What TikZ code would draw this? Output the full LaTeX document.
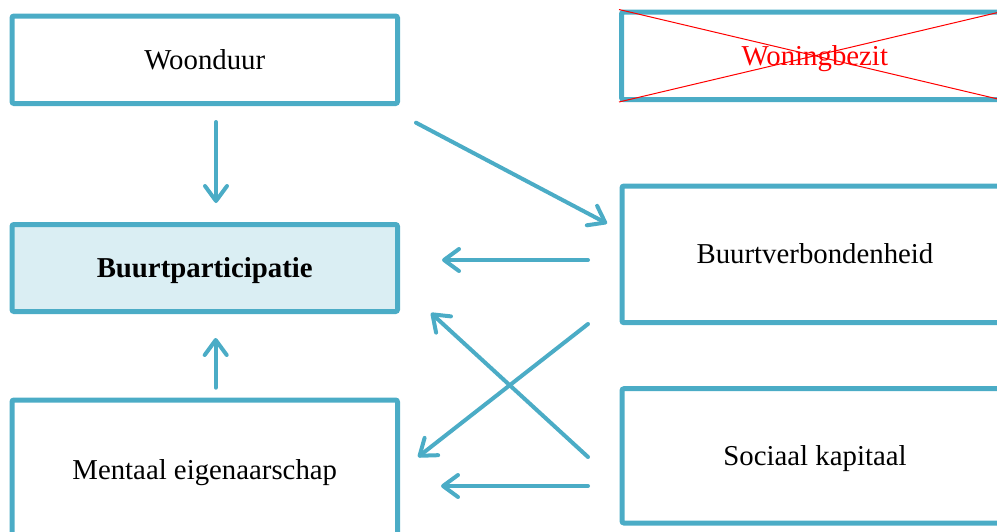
\documentclass[tikz,border=0pt]{standalone}
\usepackage{fontspec}
\setmainfont{Liberation Serif}
\usetikzlibrary{arrows.meta}
\definecolor{framecol}{HTML}{4BACC6}
\definecolor{fillcol}{HTML}{DAEEF3}
\begin{document}
\begin{tikzpicture}[x=1pt,y=-1pt,
  box/.style={draw=framecol, line width=5pt, rounded corners=2pt, inner sep=0pt,
    text height=19pt, text depth=0.5pt,
    font=\fontsize{28.8}{34}\selectfont},
  link/.style={draw=framecol, line width=4pt, line cap=round,
    -{Straight Barb[length=15pt,width=22pt,round]}}]
\useasboundingbox (0,0) rectangle (997,531);
\clip (0,0) rectangle (997,531);

% left column
\node[box, minimum width=385.5pt, minimum height=87.5pt] (woon) at (204.75,59.75) {Woonduur};
\node[box, fill=fillcol, minimum width=385.5pt, minimum height=87pt] (part) at (204.75,268) {\bfseries Buurtparticipatie};
\node[box, minimum width=385.5pt, minimum height=140pt] (ment) at (204.75,470) {Mentaal eigenaarschap};

% right column
\node[box, text=red, minimum width=386.5pt, minimum height=87.5pt] (bezit) at (814.75,55.75) {Woningbezit};
\draw[red, line width=1pt] (bezit.north west) -- (bezit.south east)
                           (bezit.south west) -- (bezit.north east);
\node[box, minimum width=386pt, minimum height=136.7pt] (verb) at (815,254.35) {Buurtverbondenheid};
\node[box, minimum width=386pt, minimum height=134.3pt] (soc) at (815,455.85) {Sociaal kapitaal};

% arrow end points
\coordinate (w1) at (216,122);   \coordinate (p1) at (216,203);
\coordinate (w2) at (416,122.7); \coordinate (v1) at (607,223.5);
\coordinate (v2) at (588,260);   \coordinate (p2) at (442,260);
\coordinate (v3) at (588,324);   \coordinate (m1) at (418,457);
\coordinate (s1) at (588,457);   \coordinate (p3) at (431,313);
\coordinate (s2) at (588,486);   \coordinate (m2) at (441,486);
\coordinate (m3) at (215.7,387.7); \coordinate (p4) at (215.7,338);

\draw[link] (w1) -- (p1);
\draw[link] (w2) -- (v1);
\draw[link] (v2) -- (p2);
\draw[link] (v3) -- (m1);
\draw[link] (s1) -- (p3);
\draw[link] (s2) -- (m2);
\draw[link] (m3) -- (p4);
\end{tikzpicture}
\end{document}
